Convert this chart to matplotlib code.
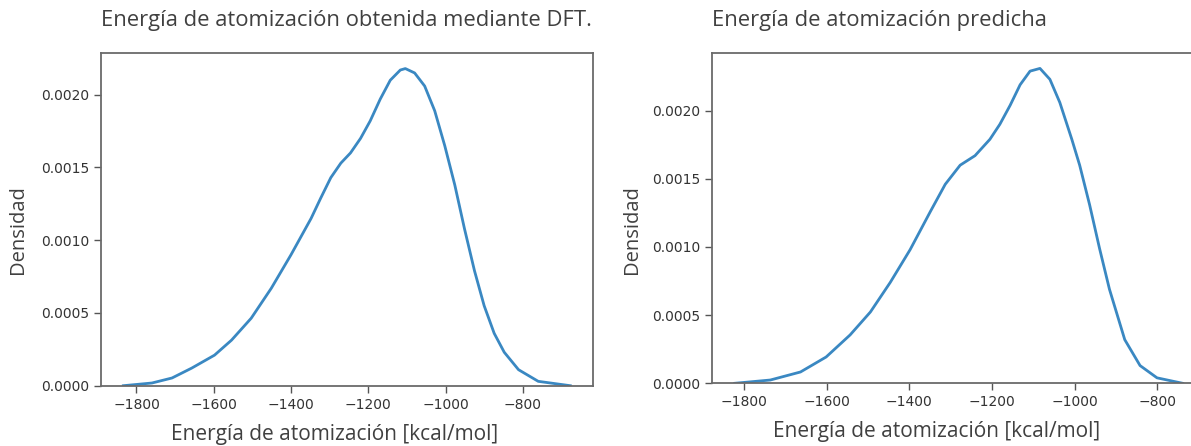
import matplotlib.pyplot as plt

# curvas de densidad
energia_dft = [-1834, -1760, -1708, -1657, -1598, -1554, -1503, -1451, -1400, -1348,
               -1323, -1297, -1271, -1246, -1220, -1195, -1169, -1143, -1117, -1104,
               -1080, -1054, -1028, -1002, -976, -951, -925, -900, -874, -848,
               -811, -760, -677]
densidad_dft = [0.0, 0.0000185, 0.000053, 0.000121, 0.00021, 0.000313, 0.000464, 0.00067, 0.0009, 0.00115,
                0.00129, 0.00143, 0.00153, 0.0016, 0.0017, 0.00182, 0.00197, 0.0021, 0.00217, 0.00218,
                0.00215, 0.00206, 0.00189, 0.00165, 0.00138, 0.00108, 0.00079, 0.00055, 0.00036, 0.00023,
                0.00011, 0.00003, 0.0]

energia_pred = [-1822, -1736, -1663, -1601, -1543, -1494, -1446, -1398, -1349, -1313,
                -1277, -1241, -1205, -1181, -1156, -1132, -1108, -1084, -1060, -1036,
                -1007, -988, -964, -940, -916, -879, -842, -801, -739]
densidad_pred = [0.0, 0.000024, 0.000083, 0.000193, 0.000355, 0.000523, 0.00074, 0.00098, 0.00126, 0.00146,
                 0.0016, 0.00167, 0.00179, 0.0019, 0.00204, 0.00219, 0.00229, 0.00231, 0.00223, 0.00206,
                 0.00179, 0.0016, 0.00131, 0.00099, 0.00069, 0.00032, 0.00013, 0.00004, 0.0]

titulos = ["Energía de atomización obtenida mediante DFT.", "Energía de atomización predicha"]
xticks = [-1800, -1600, -1400, -1200, -1000, -800]
yticks = [0.0, 0.0005, 0.0010, 0.0015, 0.0020]

plt.rcParams['font.family'] = ['Open Sans', 'DejaVu Sans']
gris = '#404040'

fig = plt.figure(figsize=(11.91, 4.46), dpi=100)
ax1 = fig.add_axes([0.0848, 0.1352, 0.4128, 0.7466])
ax2 = fig.add_axes([0.5981, 0.1406, 0.4137, 0.7413])

datos = [(energia_dft, densidad_dft), (energia_pred, densidad_pred)]
xlab_pos = [0.476, 0.456]
ylab_pos = [(-0.148, 0.468), (-0.143, 0.464)]

for ax, (x, y), titulo, xp, yp in zip([ax1, ax2], datos, titulos, xlab_pos, ylab_pos):
    ax.plot(x, y, color='#3a88c2', linewidth=2, solid_joinstyle='round')
    ax.set_xlim(min(x) - 0.05 * (max(x) - min(x)), max(x) + 0.05 * (max(x) - min(x)))
    ax.set_ylim(0, max(y) * 1.05)
    ax.set_xticks(xticks)
    ax.set_yticks(yticks)
    ax.set_xticklabels([f"\u2212{abs(v)}" for v in xticks], family='DejaVu Sans')
    ax.set_yticklabels([f"{v:.4f}" for v in yticks], family='DejaVu Sans')
    ax.tick_params(labelsize=10, colors='#555555', labelcolor='#333333', length=5, width=1)
    for s in ax.spines.values():
        s.set_color('#6a6a6a')
        s.set_linewidth(1.3)
    ax.set_title(titulo, loc='left', fontsize=15.8, color=gris, pad=19)
    ax.set_xlabel("Energía de atomización [kcal/mol]", fontsize=15, color=gris)
    ax.xaxis.set_label_coords(xp, -0.115)
    ax.set_ylabel("Densidad", fontsize=14.5, color=gris)
    ax.yaxis.set_label_coords(*yp)

fig.savefig('out.png', dpi=100)
